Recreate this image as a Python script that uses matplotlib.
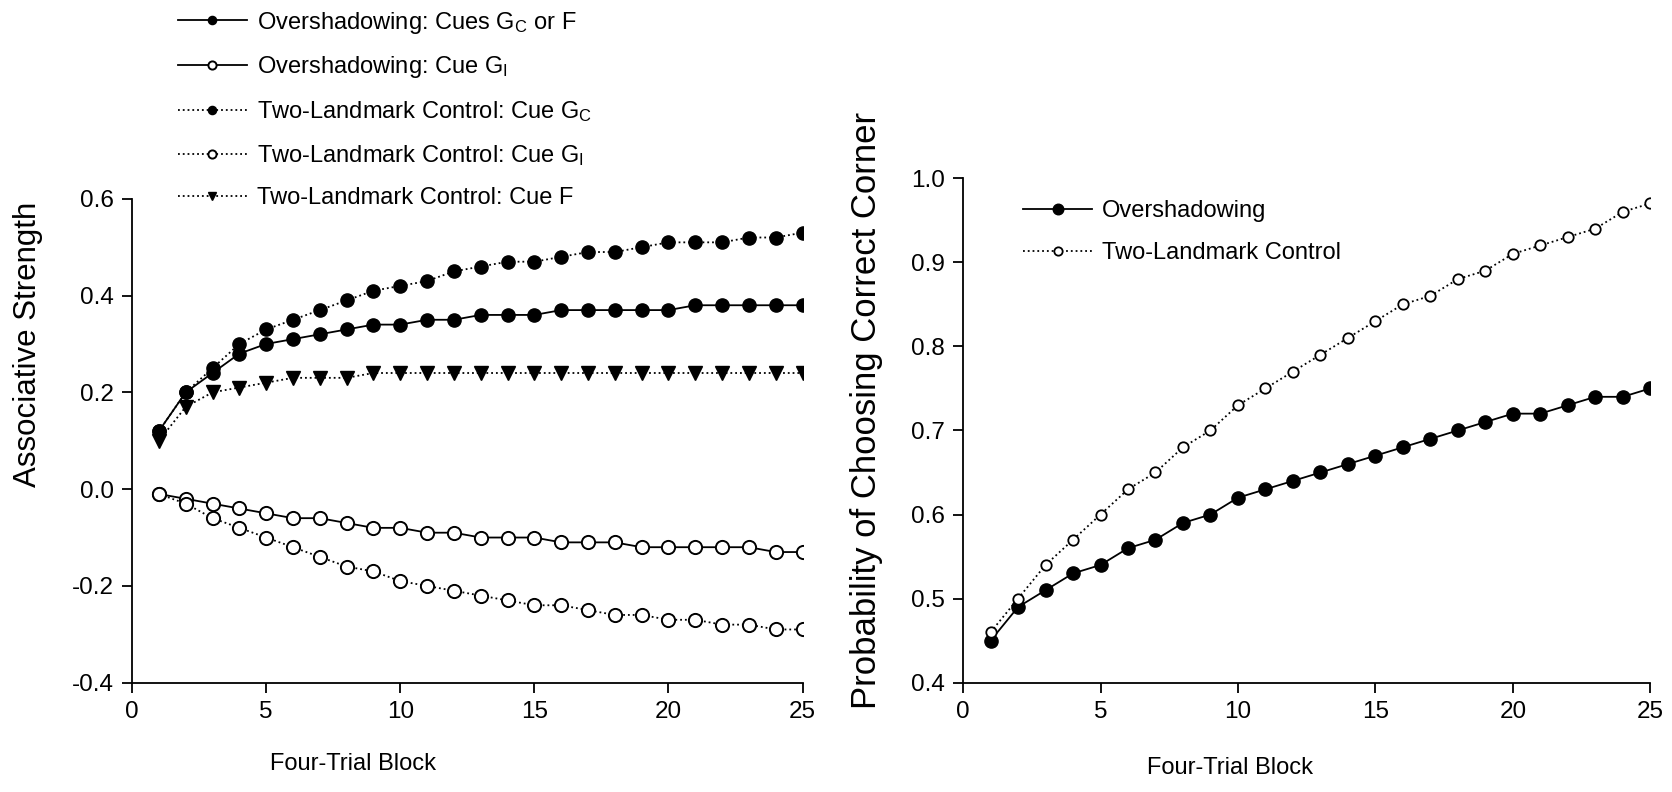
import numpy as np
import matplotlib
matplotlib.use("Agg")
import matplotlib.pyplot as plt
from matplotlib.ticker import FormatStrFormatter

plt.rcParams["font.family"] = ["Liberation Sans", "DejaVu Sans"]
plt.rcParams["mathtext.default"] = "regular"
plt.rcParams["axes.unicode_minus"] = False

blocks = np.arange(1, 26)

# left panel: associative strength
over_gc_f = [0.12, 0.20, 0.24, 0.28, 0.30, 0.31, 0.32, 0.33, 0.34, 0.34, 0.35, 0.35, 0.36,
             0.36, 0.36, 0.37, 0.37, 0.37, 0.37, 0.37, 0.38, 0.38, 0.38, 0.38, 0.38]
over_gi = [-0.01, -0.02, -0.03, -0.04, -0.05, -0.06, -0.06, -0.07, -0.08, -0.08, -0.09, -0.09, -0.10,
           -0.10, -0.10, -0.11, -0.11, -0.11, -0.12, -0.12, -0.12, -0.12, -0.12, -0.13, -0.13]
ctrl_gc = [0.12, 0.20, 0.25, 0.30, 0.33, 0.35, 0.37, 0.39, 0.41, 0.42, 0.43, 0.45, 0.46,
           0.47, 0.47, 0.48, 0.49, 0.49, 0.50, 0.51, 0.51, 0.51, 0.52, 0.52, 0.53]
ctrl_gi = [-0.01, -0.03, -0.06, -0.08, -0.10, -0.12, -0.14, -0.16, -0.17, -0.19, -0.20, -0.21, -0.22,
           -0.23, -0.24, -0.24, -0.25, -0.26, -0.26, -0.27, -0.27, -0.28, -0.28, -0.29, -0.29]
ctrl_f = [0.10, 0.17, 0.20, 0.21, 0.22, 0.23, 0.23, 0.23, 0.24, 0.24, 0.24, 0.24, 0.24,
          0.24, 0.24, 0.24, 0.24, 0.24, 0.24, 0.24, 0.24, 0.24, 0.24, 0.24, 0.24]

# right panel: probability of choosing correct corner
p_over = [0.45, 0.49, 0.51, 0.53, 0.54, 0.56, 0.57, 0.59, 0.60, 0.62, 0.63, 0.64, 0.65,
          0.66, 0.67, 0.68, 0.69, 0.70, 0.71, 0.72, 0.72, 0.73, 0.74, 0.74, 0.75]
p_ctrl = [0.46, 0.50, 0.54, 0.57, 0.60, 0.63, 0.65, 0.68, 0.70, 0.73, 0.75, 0.77, 0.79,
          0.81, 0.83, 0.85, 0.86, 0.88, 0.89, 0.91, 0.92, 0.93, 0.94, 0.96, 0.97]

FS = 17
LW = 1.3
MS = 9.5

fig = plt.figure(figsize=(16.72, 7.92), dpi=100)
ax1 = fig.add_axes([0.079, 0.138, 0.401, 0.611])
ax2 = fig.add_axes([0.576, 0.138, 0.411, 0.637])


def style_axis(ax):
    for s in ("top", "right"):
        ax.spines[s].set_visible(False)
    for s in ("left", "bottom"):
        ax.spines[s].set_linewidth(1.3)
    ax.tick_params(direction="out", length=7, width=1.3, labelsize=17.5, pad=6)
    ax.set_xlim(0, 25)
    ax.set_xticks([0, 5, 10, 15, 20, 25])


filled = dict(marker="o", color="black", markerfacecolor="black", markersize=MS, lw=LW)
hollow = dict(marker="o", color="black", markerfacecolor="white", markeredgewidth=1.4,
              markersize=MS, lw=LW)

ax1.plot(blocks, over_gc_f, ls="-", label="Overshadowing: Cues G$_C$ or F", **filled)
ax1.plot(blocks, over_gi, ls="-", label="Overshadowing: Cue G$_I$", **hollow)
ax1.plot(blocks, ctrl_gc, ls=":", label="Two-Landmark Control: Cue G$_C$", **filled)
ax1.plot(blocks, ctrl_gi, ls=":", label="Two-Landmark Control: Cue G$_I$", **hollow)
ax1.plot(blocks, ctrl_f, ls=":", marker="v", color="black", markersize=MS, lw=LW,
         label="Two-Landmark Control: Cue F")
style_axis(ax1)
ax1.set_ylim(-0.4, 0.6)
ax1.set_yticks(np.arange(-0.4, 0.61, 0.2))
ax1.yaxis.set_major_formatter(FormatStrFormatter("%.1f"))
ax1.set_ylabel("Associative Strength", fontsize=22.5)
ax1.yaxis.set_label_coords(-0.133, 0.70)
ax1.set_xlabel("Four-Trial Block", fontsize=FS)
ax1.xaxis.set_label_coords(0.33, -0.145)
ax1.legend(loc="upper left", bbox_to_anchor=(0.1065, 0.988), bbox_transform=fig.transFigure,
           frameon=False, fontsize=FS, markerscale=0.62, handlelength=2.9,
           handletextpad=0.45, labelspacing=0.8, borderpad=0, borderaxespad=0)

ax2.plot(blocks, p_over, ls="-", label="Overshadowing", **filled)
ax2.plot(blocks, p_ctrl, ls=":", marker="o", color="black", markerfacecolor="white",
         markeredgewidth=1.3, markersize=7.5, lw=LW, label="Two-Landmark Control")
style_axis(ax2)
ax2.set_ylim(0.4, 1.0)
ax2.set_yticks(np.arange(0.4, 1.01, 0.1))
ax2.yaxis.set_major_formatter(FormatStrFormatter("%.1f"))
ax2.set_ylabel("Probability of Choosing Correct Corner", fontsize=25)
ax2.yaxis.set_label_coords(-0.116, 0.54)
ax2.set_xlabel("Four-Trial Block", fontsize=FS)
ax2.xaxis.set_label_coords(0.389, -0.147)
ax2.legend(loc="upper left", bbox_to_anchor=(0.612, 0.7475), bbox_transform=fig.transFigure,
           frameon=False, fontsize=FS, markerscale=0.8, handlelength=2.9,
           handletextpad=0.45, labelspacing=0.85, borderpad=0, borderaxespad=0)

fig.savefig("out.png", dpi=100)
